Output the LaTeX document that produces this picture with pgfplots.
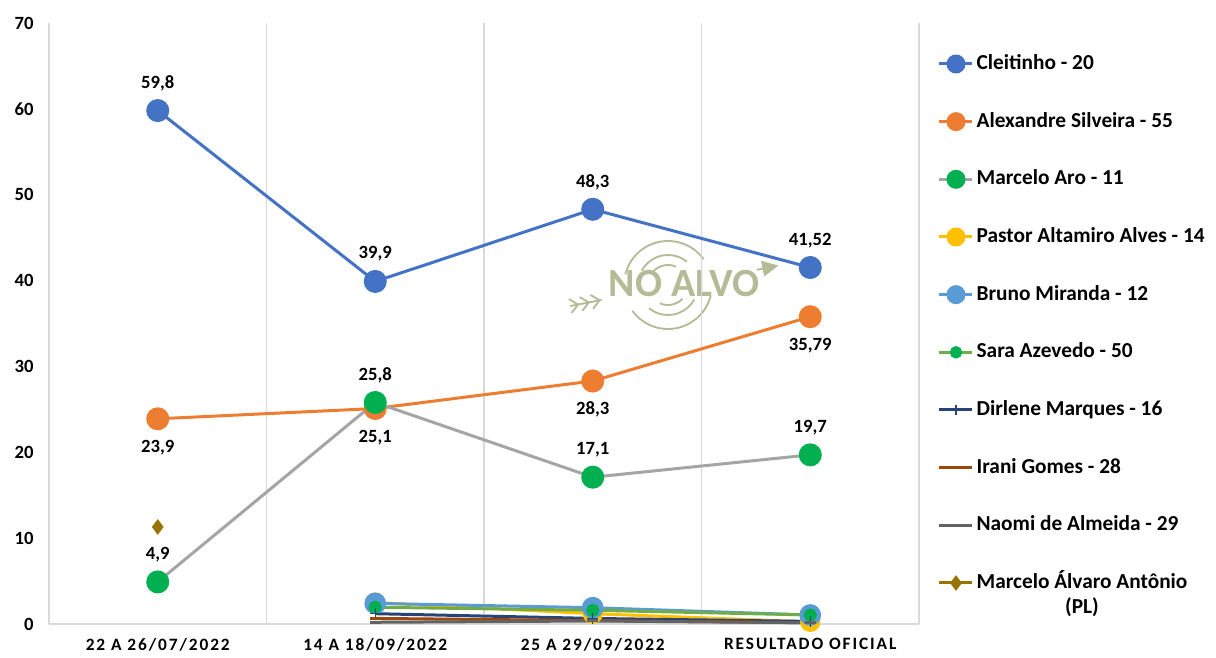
\documentclass[border=0pt]{standalone}
\usepackage{fontspec}
\setmainfont{Carlito}
\newfontfamily\spacedfont{Carlito}[LetterSpace=11]
\usepackage{pgfplots}
\pgfplotsset{compat=1.18}
\definecolor{cBlue}{HTML}{4472C4}
\definecolor{cOrange}{HTML}{ED7D31}
\definecolor{cGray}{HTML}{A5A5A5}
\definecolor{cGreen}{HTML}{00B050}
\definecolor{cYellow}{HTML}{FFC000}
\definecolor{cLBlue}{HTML}{5B9BD5}
\definecolor{cLGreen}{HTML}{70AD47}
\definecolor{cNavy}{HTML}{264478}
\definecolor{cBrown}{HTML}{9E480E}
\definecolor{cDGray}{HTML}{636363}
\definecolor{cOlive}{HTML}{997300}
\definecolor{cGrid}{HTML}{D9D9D9}
\definecolor{sage}{HTML}{B5BB96}
\begin{document}
\begin{tikzpicture}
\useasboundingbox (0,0) rectangle (912pt,492.75pt);
% watermark
\begin{scope}[shift={(501pt,279pt)}, rotate=11, color=sage, line width=1.4pt, x=0.75pt, y=0.75pt]
  \draw (25:44) arc (25:155:44);
  \draw (205:44) arc (205:335:44);
  \draw (40:30) arc (40:140:30);
  \draw (220:30) arc (220:320:30);
  \draw (55:20) arc (55:125:20);
  \draw (235:20) arc (235:305:20);
  \node[font=\fontsize{30}{30}\selectfont\bfseries, text=sage, inner sep=0pt] at (16,-2) {NO ALVO};
  \draw (-100,-2) -- (-68,-2);
  \foreach \u in {-100,-89,-78} {\draw (\u,5) -- (\u+8,-2) -- (\u,-9);}
  \draw (90,-2) -- (97,-2);
  \fill (96,6) -- (112,-2) -- (96,-10) -- cycle;
\end{scope}
\begin{axis}[
  at={(36.75pt,24.75pt)}, anchor=south west,
  scale only axis, width=652.5pt, height=450.75pt,
  xmin=-0.5, xmax=3.5, ymin=0, ymax=70,
  clip=false,
  axis line style={draw=none},
  xtick={0,1,2,3},
  xticklabels={22 A 26/07/2022,14 A 18/09/2022,25 A 29/09/2022,RESULTADO OFICIAL},
  minor xtick={-0.5,0.5,1.5,2.5,3.5},
  xminorgrids=true,
  minor x grid style={draw=cGrid, line width=0.9pt},
  major tick length=0pt, minor tick length=0pt,
  ytick={0,10,...,70},
  yticklabel={\fontsize{14}{16}\selectfont\bfseries\pgfmathprintnumber[assume math mode=true]{\tick}},
  yticklabel shift=8pt,
  xticklabel shift=7pt,
  x tick label style={font=\spacedfont\fontsize{13}{15}\selectfont\bfseries},
  legend cell align=left,
  legend image code/.code={\draw[mark repeat=2,mark phase=2,#1] plot coordinates {(0pt,0pt) (12.4pt,0pt) (24.75pt,0pt)};},
  legend style={at={(1.0218,0.949)}, anchor=north west, draw=none, fill=none,
    font=\fontsize{16}{19}\selectfont\bfseries, inner sep=0pt, outer sep=0pt,
    row sep=27.75pt, column sep=2pt,
    nodes={inner sep=0pt, text height=12pt, text depth=3.5pt}},
  every node near coord/.append style={font=\fontsize{14}{16}\selectfont\bfseries, text=black, anchor=center},
]
\draw[cGrid, line width=0.9pt] (axis cs:-0.5,0) -- (axis cs:3.5,0);
\addplot[cBlue, line width=2.25pt, mark=*, mark size=7.5pt, mark options={fill=cBlue, draw=cBlue},
  point meta=explicit symbolic, nodes near coords, nodes near coords style={yshift=20.5pt},
  legend image post style={mark size=6pt}]
  table[meta=lab] {
x y lab
0 59.8 59,8
1 39.9 39,9
2 48.3 48,3
3 41.52 41,52
};
\addlegendentry{Cleitinho - 20}
\addplot[cOrange, line width=2.25pt, mark=*, mark size=7.5pt, mark options={fill=cOrange, draw=cOrange},
  point meta=explicit symbolic, nodes near coords, nodes near coords style={yshift=-21.5pt},
  legend image post style={mark size=6pt}]
  table[meta=lab] {
x y lab
0 23.9 23,9
1 25.1 25,1
2 28.3 28,3
3 35.79 35,79
};
\addlegendentry{Alexandre Silveira - 55}
\addplot[cGray, line width=2.25pt, mark=*, mark size=7.5pt, mark options={fill=cGreen, draw=cGreen},
  point meta=explicit symbolic, nodes near coords, nodes near coords style={yshift=20.5pt},
  legend image post style={mark size=6pt}]
  table[meta=lab] {
x y lab
0 4.9 4,9
1 25.8 25,8
2 17.1 17,1
3 19.7 19,7
};
\addlegendentry{Marcelo Aro - 11}
\addplot[cYellow, line width=2.25pt, mark=*, mark size=6.5pt, mark options={fill=cYellow, draw=cYellow},
  legend image post style={mark size=6pt}]
  table {
x y
1 2.5
2 1.2
3 0.25
};
\addlegendentry{Pastor Altamiro Alves - 14}
\addplot[cLBlue, line width=2.25pt, mark=*, mark size=7pt, mark options={fill=cLBlue, draw=cLBlue},
  legend image post style={mark size=6pt}]
  table {
x y
1 2.4
2 1.9
3 1.05
};
\addlegendentry{Bruno Miranda - 12}
\addplot[cLGreen, line width=2.25pt, mark=*, mark size=3.8pt, mark options={fill=cGreen, draw=cGreen},
  legend image post style={mark size=3.5pt}]
  table {
x y
1 1.95
2 1.6
3 1.05
};
\addlegendentry{Sara Azevedo - 50}
\addplot[cNavy, line width=2.25pt, mark=+, mark size=4pt, mark options={line width=1pt}]
  table {
x y
1 1.2
2 0.65
3 0.3
};
\addlegendentry{Dirlene Marques - 16}
\addplot[cBrown, line width=2.25pt, mark=-, mark size=4pt]
  table {
x y
1 0.65
2 0.4
3 0.15
};
\addlegendentry{Irani Gomes - 28}
\addplot[cDGray, line width=2.25pt, mark=-, mark size=4pt]
  table {
x y
1 0.2
2 0.35
3 0.15
};
\addlegendentry{Naomi de Almeida - 29}
\addplot[cOlive, line width=2.25pt, mark=diamond*, mark size=4pt, mark options={fill=cOlive, draw=cOlive}]
  table {
x y
0 11.3
};
\addlegendentry{\begin{tabular}[t]{@{}c@{}}Marcelo Álvaro Antônio\\(PL)\end{tabular}}
\end{axis}
\end{tikzpicture}
\end{document}
